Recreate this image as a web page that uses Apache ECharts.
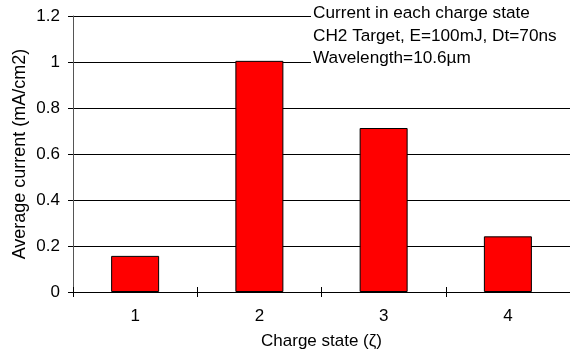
<!DOCTYPE html>
<html>
<head>
<meta charset="utf-8">
<script src="https://cdn.jsdelivr.net/npm/echarts@6/dist/echarts.min.js"></script>
<style>html,body{margin:0;padding:0;background:#fff}#c{width:570px;height:355px}</style>
</head>
<body>
<div id="c"></div>
<script>
const categories = ['1', '2', '3', '4'];
const currentValues = [0.157, 1.005, 0.713, 0.242];
const yTicks = { min: 0, max: 1.2, interval: 0.2 };
const annotationLines = ['Current in each charge state', 'CH2 Target, E=100mJ, Dt=70ns', 'Wavelength=10.6\u00b5m'];
const xTitle = 'Charge state (\u03b6)';
const yTitle = 'Average current (mA/cm2)';

const FONT = 'Liberation Sans, Arial, sans-serif';
const chart = echarts.init(document.getElementById('c'), null, { renderer: 'canvas' });
chart.setOption({
  animation: false,
  backgroundColor: '#fff',
  title: {
    text: annotationLines.join('\n'),
    left: 311, top: 0,
    padding: [2, 40, 4, 2],
    backgroundColor: '#fff',
    textStyle: { fontFamily: FONT, fontSize: 17.2, fontWeight: 'normal', color: '#000', lineHeight: 22.7 }
  },
  grid: { left: 73, top: 16, width: 498, height: 276 },
  xAxis: [{
    type: 'category',
    data: categories,
    name: xTitle,
    nameLocation: 'middle',
    nameGap: 41,
    nameMoveOverlap: false,
    nameTextStyle: { fontFamily: FONT, fontSize: 17, color: '#000' },
    axisLine: { show: true, lineStyle: { color: '#000', width: 1 } },
    axisTick: { show: true, alignWithLabel: false, length: 5, lineStyle: { color: '#000' } },
    axisLabel: { fontFamily: FONT, fontSize: 17, color: '#000', margin: 16 },
    splitLine: { show: false }
  }, {
    type: 'category',
    data: categories,
    position: 'bottom',
    axisLine: { show: false },
    axisTick: { show: true, inside: true, alignWithLabel: false, length: 5, lineStyle: { color: '#000' } },
    axisLabel: { show: false },
    splitLine: { show: false }
  }],
  yAxis: {
    type: 'value',
    min: yTicks.min, max: yTicks.max, interval: yTicks.interval,
    name: yTitle,
    nameLocation: 'middle',
    nameGap: 44,
    nameMoveOverlap: false,
    nameTextStyle: { fontFamily: FONT, fontSize: 18, color: '#000' },
    axisLine: { show: true, lineStyle: { color: '#555', width: 1 } },
    axisTick: { show: true, length: 5, lineStyle: { color: '#000' } },
    axisLabel: { fontFamily: FONT, fontSize: 17, color: '#000', margin: 13 },
    splitLine: { show: true, lineStyle: { color: '#000', width: 1 } }
  },
  series: [{
    type: 'bar',
    data: currentValues,
    barWidth: 48,
    itemStyle: { color: '#ff0000', borderColor: '#000', borderWidth: 1 }
  }]
});
</script>
</body>
</html>
